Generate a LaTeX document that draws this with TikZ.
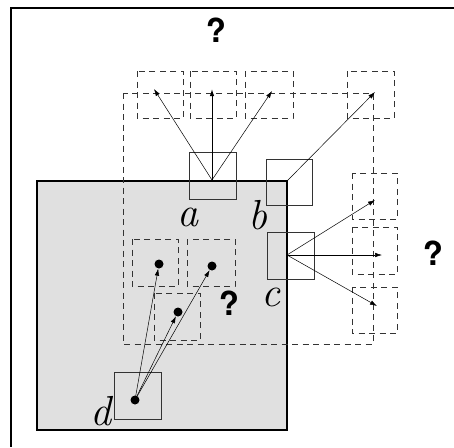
\documentclass[tikz,border=0pt]{standalone}
\usepackage{fontspec}
\newfontfamily\qfont{TeX Gyre Heros}
\usetikzlibrary{arrows.meta}
\begin{document}
\begin{tikzpicture}[x=1pt,y=-1pt,
 frameline/.style={line width=1.4pt},
 dbox/.style={draw=black!80, dash pattern=on 6pt off 4.5pt, line width=0.9pt},
 sbox/.style={draw=black!80, line width=1pt, minimum size=46pt, inner sep=0pt},
 vec/.style={line width=0.5pt, -{Latex[length=7pt,width=4.5pt]}},
 vecthick/.style={line width=1pt, -{Latex[length=7pt,width=4.5pt]}},
 lab/.style={font=\itshape\fontsize{42}{42}\selectfont, inner sep=0pt},
 qm/.style={font=\qfont\bfseries\fontsize{33}{33}\selectfont, inner sep=0pt},
 dotnode/.style={circle, fill=black, inner sep=0pt, minimum size=9pt}
]
\useasboundingbox (0,0) rectangle (454,447);
% frame (only top and left edges visible)
\draw[frameline] (454,8) -- (11,8) -- (11,447);
% grey region
\draw[line width=1.1pt, fill={rgb,255:red,224;green,224;blue,224}] (37,181) rectangle (287,430);
% big dashed rectangle
\draw[dbox] (123,93) rectangle (373,344);
% top dashed boxes
\draw[dbox] (137,71) rectangle (183,118);
\draw[dbox] (190,71) rectangle (236,118);
\draw[dbox] (245,71) rectangle (293,118);
\draw[dbox] (347,71) rectangle (394,118);
% right dashed boxes
\draw[dbox] (352,173) rectangle (397,219);
\draw[dbox] (352,227) rectangle (397,274);
\draw[dbox] (352,287) rectangle (397,333);
% middle dashed boxes
\draw[dbox] (132,239) rectangle (178,286);
\draw[dbox] (187,239) rectangle (235,286);
\draw[dbox] (154,293) rectangle (200,340);
% solid boxes
\node[sbox, minimum width=47pt, minimum height=47pt] (boxa) at (212.5,175.5) {};
\node[sbox, minimum width=46pt, minimum height=46pt] (boxb) at (289,182) {};
\node[sbox, minimum width=47pt, minimum height=47pt] (boxc) at (290.5,255.5) {};
\node[sbox, minimum width=47pt, minimum height=47pt] (boxd) at (137.5,395.5) {};
% origins and targets
\coordinate (ao) at (212,180);
\coordinate (bo) at (287,181);
\coordinate (co) at (287,255);
\coordinate (t1) at (154,89);
\coordinate (t2) at (212,89);
\coordinate (t3) at (272,91);
\coordinate (t4) at (375,92);
\coordinate (r1) at (375,200);
\coordinate (r2) at (382,255);
\coordinate (r3) at (377,306);
\draw[vec] (ao) -- (t1);
\draw[vecthick] (ao) -- (t2);
\draw[vec] (ao) -- (t3);
\draw[vec] (bo) -- (t4);
\draw[vec] (co) -- (r1);
\draw[vec] (co) -- (r2);
\draw[vec] (co) -- (r3);
% dots
\node[dotnode] (dd) at (135,400) {};
\node[dotnode] (m1) at (159,264) {};
\node[dotnode] (m2) at (212,266) {};
\node[dotnode] (m3) at (178,312) {};
\draw[vec] (dd.center) -- (m1);
\draw[vec] (dd.center) -- (m2);
\draw[vec] (dd.center) -- (m3);
% labels
\node[lab] (la) at (188,217.5) {a};
\node[lab] (lb) at (258,215.5) {b};
\node[lab] (lc) at (271,297) {c};
\node[lab] (ld) at (101,411) {d};
% question marks
\node[qm] (q1) at (216,30.5) {?};
\node[qm] (q2) at (433,253) {?};
\node[qm] (q3) at (229,303) {?};
\end{tikzpicture}
\end{document}
